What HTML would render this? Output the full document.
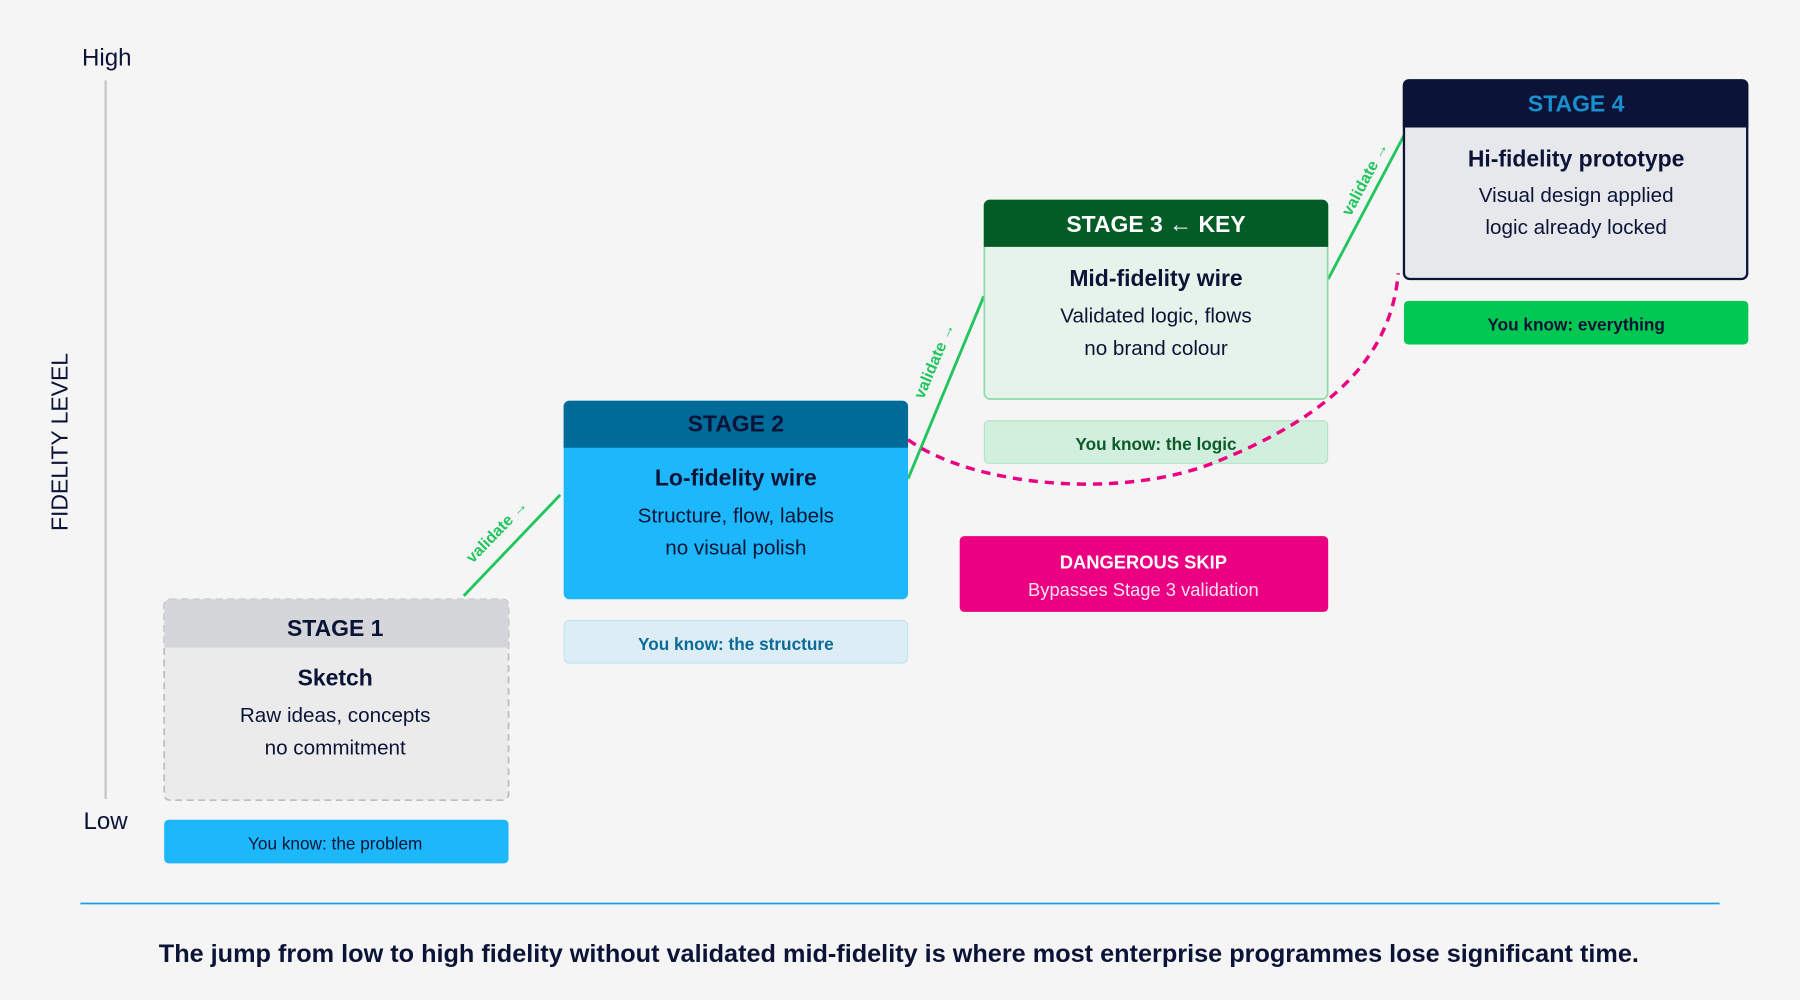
<!DOCTYPE html>
<html><head><meta charset="utf-8"><style>
html,body{margin:0;padding:0;background:#f5f5f5;}
svg{display:block;font-family:"Liberation Sans",sans-serif;}
</style></head><body>
<svg width="1800" height="1000" viewBox="0 0 1568 871" xmlns="http://www.w3.org/2000/svg">
<rect width="1568" height="871" fill="#f5f5f5"/>
<!-- axis -->
<line x1="92" y1="70" x2="92" y2="696" stroke="#c8c8c8" stroke-width="2"/>
<text x="93" y="57" font-size="21" fill="#0b1437" text-anchor="middle">High</text>
<text x="92" y="722" font-size="21" fill="#0b1437" text-anchor="middle">Low</text>
<text transform="translate(59,385) rotate(-90)" font-size="20" fill="#0b1437" text-anchor="middle">FIDELITY LEVEL</text>

<!-- connectors -->
<g stroke="#22c55e" stroke-width="2.5">
<line x1="404" y1="519" x2="488" y2="431"/>
<line x1="791" y1="417" x2="857" y2="258"/>
<line x1="1157" y1="243" x2="1223" y2="118"/>
</g>
<g fill="#22c55e" font-size="14" font-weight="bold" text-anchor="middle">
<text transform="translate(436,466) rotate(-46)">validate →</text>
<text transform="translate(818,316) rotate(-67)">validate →</text>
<text transform="translate(1193,158) rotate(-62)">validate →</text>
</g>

<!-- stage 1 -->
<rect x="143" y="522" width="300" height="175" rx="5" fill="#ebebeb" stroke="#bdbdbd" stroke-width="1.5" stroke-dasharray="6,4"/>
<path d="M143,564 V527 a5,5 0 0 1 5,-5 H438 a5,5 0 0 1 5,5 V564 Z" fill="#d5d6da"/>
<text x="292" y="554" font-size="20" font-weight="bold" fill="#0b1437" text-anchor="middle">STAGE 1</text>
<text x="292" y="597" font-size="20" font-weight="bold" fill="#0b1437" text-anchor="middle">Sketch</text>
<text x="292" y="629" font-size="18" fill="#0b1437" text-anchor="middle">Raw ideas, concepts</text>
<text x="292" y="657" font-size="18" fill="#0b1437" text-anchor="middle">no commitment</text>
<rect x="143" y="714" width="300" height="38" rx="4" fill="#1cb8fb"/>
<text x="292" y="740" font-size="15" fill="#0b1437" text-anchor="middle">You know: the problem</text>

<!-- stage 2 -->
<rect x="491" y="349" width="300" height="173" rx="5" fill="#1cb8fb"/>
<path d="M491,390 V354 a5,5 0 0 1 5,-5 H786 a5,5 0 0 1 5,5 V390 Z" fill="#006b99"/>
<text x="641" y="376" font-size="20" font-weight="bold" fill="#0b1437" text-anchor="middle">STAGE 2</text>
<text x="641" y="423" font-size="20" font-weight="bold" fill="#0b1437" text-anchor="middle">Lo-fidelity wire</text>
<text x="641" y="455" font-size="18" fill="#0b1437" text-anchor="middle">Structure, flow, labels</text>
<text x="641" y="483" font-size="18" fill="#0b1437" text-anchor="middle">no visual polish</text>
<rect x="491.5" y="540.5" width="299" height="37" rx="4" fill="#dcedf5" stroke="#c4e4f2"/>
<text x="641" y="566" font-size="15" font-weight="bold" fill="#0b6a96" text-anchor="middle">You know: the structure</text>

<!-- stage 3 -->
<rect x="857.5" y="174.5" width="299" height="173" rx="5" fill="#e6f3ea" stroke="#8cdba8" stroke-width="1.5"/>
<path d="M857,215 V179 a5,5 0 0 1 5,-5 H1152 a5,5 0 0 1 5,5 V215 Z" fill="#035b26"/>
<text x="1007" y="202" font-size="20" font-weight="bold" fill="#ffffff" text-anchor="middle">STAGE 3 ← KEY</text>
<text x="1007" y="249" font-size="20" font-weight="bold" fill="#0b1437" text-anchor="middle">Mid-fidelity wire</text>
<text x="1007" y="281" font-size="18" fill="#0b1437" text-anchor="middle">Validated logic, flows</text>
<text x="1007" y="309" font-size="18" fill="#0b1437" text-anchor="middle">no brand colour</text>
<rect x="857.5" y="366.5" width="299" height="37" rx="4" fill="#d2eedc" stroke="#aee3c2"/>
<text x="1007" y="392" font-size="15" font-weight="bold" fill="#0b5c2a" text-anchor="middle">You know: the logic</text>

<!-- dangerous skip curve -->
<path d="M791,383 C850,425 980,435 1060,402 C1160,362 1212,310 1218,238" fill="none" stroke="#ea0080" stroke-width="3" stroke-dasharray="8,6"/>

<!-- stage 4 -->
<rect x="1223" y="70" width="299" height="173" rx="5" fill="#e7e8ec" stroke="#0b1437" stroke-width="2"/>
<path d="M1222,111 V74 a5,5 0 0 1 5,-5 H1518 a5,5 0 0 1 5,5 V111 Z" fill="#0b1437"/>
<text x="1373" y="97" font-size="20" font-weight="bold" fill="#1a8fcf" text-anchor="middle">STAGE 4</text>
<text x="1373" y="145" font-size="20" font-weight="bold" fill="#0b1437" text-anchor="middle">Hi-fidelity prototype</text>
<text x="1373" y="176" font-size="18" fill="#0b1437" text-anchor="middle">Visual design applied</text>
<text x="1373" y="204" font-size="18" fill="#0b1437" text-anchor="middle">logic already locked</text>
<rect x="1223" y="262" width="300" height="38" rx="4" fill="#00c853"/>
<text x="1373" y="288" font-size="15" font-weight="bold" fill="#0b1437" text-anchor="middle">You know: everything</text>

<!-- danger box -->
<rect x="836" y="467" width="321" height="66" rx="4" fill="#ea0080"/>
<text x="996" y="495" font-size="16" font-weight="bold" fill="#ffffff" text-anchor="middle">DANGEROUS SKIP</text>
<text x="996" y="519" font-size="16" fill="#ffe0f0" text-anchor="middle">Bypasses Stage 3 validation</text>

<!-- bottom -->
<line x1="70" y1="787" x2="1498" y2="787" stroke="#1aa0e0" stroke-width="1.5"/>
<text x="783" y="838" font-size="22" font-weight="bold" fill="#0b1437" text-anchor="middle">The jump from low to high fidelity without validated mid-fidelity is where most enterprise programmes lose significant time.</text>
</svg>
</body></html>
